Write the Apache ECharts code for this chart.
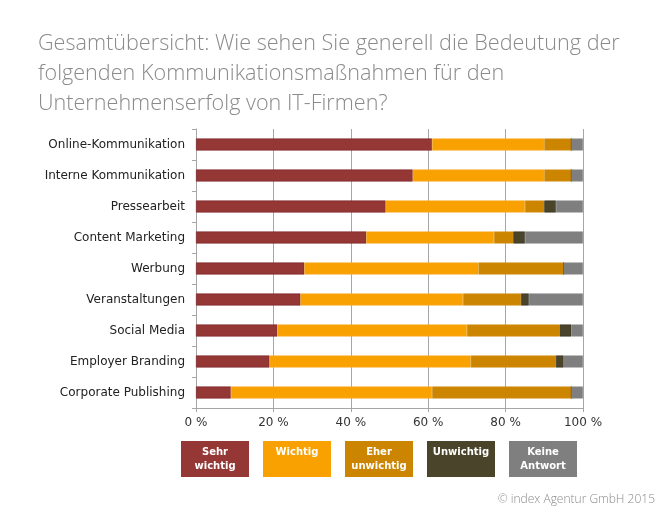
<!DOCTYPE html>
<html><head><meta charset="utf-8">
<script src="https://cdn.jsdelivr.net/npm/echarts@6/dist/echarts.min.js"></script>
<style>html,body{margin:0;padding:0;background:#fff}#c{width:666px;height:519px}</style>
</head><body><div id="c"></div>
<script>
const categories = ["Online-Kommunikation","Interne Kommunikation","Pressearbeit","Content Marketing","Werbung","Veranstaltungen","Social Media","Employer Branding","Corporate Publishing"];
const seriesNames = ["Sehr wichtig","Wichtig","Eher unwichtig","Unwichtig","Keine Antwort"];
const legendLabels = ["Sehr\nwichtig","Wichtig","Eher\nunwichtig","Unwichtig","Keine\nAntwort"];
const sehrWichtig   = [61,56,49,44,28,27,21,19,9];
const wichtig       = [29,34,36,33,45,42,49,52,52];
const eherUnwichtig = [7,7,5,5,22,15,24,22,36];
const unwichtig     = [0,0,3,3,0,2,3,2,0];
const keineAntwort  = [3,3,7,15,5,14,3,5,3];
const xTicks = [0,20,40,60,80,100];
const colors = ["#953735","#F8A100","#CC8500","#4A452A","#7F7F7F"];
const borders = ["#7a2428","#f5b030","#d49220","#2e2a18","#8a8a8a"];
const values = [sehrWichtig,wichtig,eherUnwichtig,unwichtig,keineAntwort];

const chart = echarts.init(document.getElementById('c'));
const labelFont = "'DejaVu Sans', Verdana, sans-serif";
const graphics = [];
seriesNames.forEach((n,i)=>{
  graphics.push({type:'group', left:181+i*82, top:441, children:[
    {type:'rect', shape:{x:0,y:0,width:68,height:36}, style:{fill:colors[i]}},
    {type:'text', x:34, y:i===1||i===3?4:4, style:{text:legendLabels[i], fill:'#fff', font:"bold 10px "+labelFont, align:'center', verticalAlign:'top', lineHeight:14}}
  ]});
});
chart.setOption({
  animation:false,
  title:{text:"Gesamtübersicht: Wie sehen Sie generell die Bedeutung der\nfolgenden Kommunikationsmaßnahmen für den\nUnternehmenserfolg von IT-Firmen?",
    left:33, top:24, textStyle:{fontFamily:"'Open Sans'", fontWeight:300, fontSize:21.6, color:'#8a8a8a', lineHeight:30}},
  grid:{left:196, right:83, top:129, bottom:111},
  xAxis:{type:'value', min:0, max:100, interval:20,
    axisLine:{show:true, lineStyle:{color:'#a6a6a6'}},
    axisTick:{show:true, length:4, lineStyle:{color:'#a6a6a6'}},
    splitLine:{show:true, lineStyle:{color:'#a6a6a6', width:1}},
    axisLabel:{formatter:v=>v+' %', fontFamily:labelFont, fontSize:12, color:'#333', margin:9}},
  yAxis:{type:'category', data:categories, inverse:true,
    axisLine:{show:true, lineStyle:{color:'#a6a6a6'}},
    axisTick:{show:true, length:4, lineStyle:{color:'#a6a6a6'}},
    axisLabel:{fontFamily:labelFont, fontSize:12, color:'#222', margin:11}},
  series: seriesNames.map((n,i)=>({name:n, type:'bar', stack:'total', data:values[i], barWidth:12,
    itemStyle:{color:colors[i], borderColor:borders[i], borderWidth:0.6}})),
  graphic: graphics.concat([{type:'text', right:11, top:494, style:{text:"© index Agentur GmbH 2015", fill:'#8a8a8a', font:"300 12px 'Open Sans'"}}])
});
</script></body></html>
